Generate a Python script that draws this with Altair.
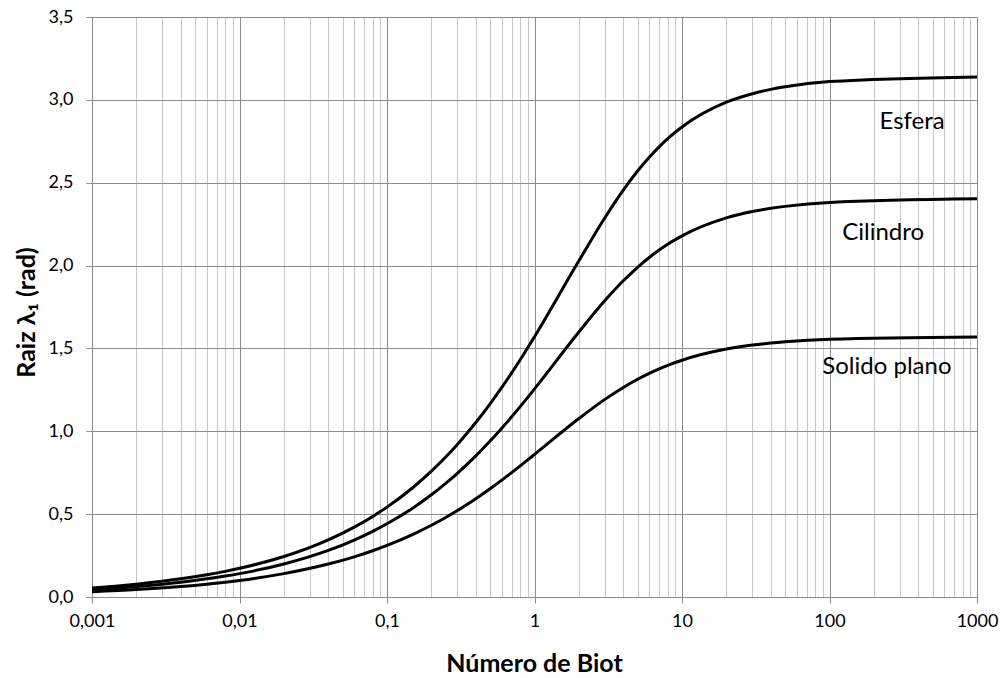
import altair as alt
import pandas as pd

# Biot numbers and first eigenvalue
BI = [0.001, 0.002, 0.004, 0.006, 0.008, 0.01, 0.02, 0.04, 0.06, 0.08, 0.1,
      0.15, 0.2, 0.25, 0.3, 0.4, 0.5, 0.6, 0.7, 0.8, 0.9, 1.0, 2, 3, 4, 5,
      6, 7, 8, 9, 10, 20, 30, 40, 50, 100, 1000]
PLANO = [0.0316, 0.0447, 0.0632, 0.0774, 0.0893, 0.0998, 0.1410, 0.1987,
         0.2425, 0.2791, 0.3111, 0.3779, 0.4328, 0.4801, 0.5218, 0.5932,
         0.6533, 0.7051, 0.7506, 0.7910, 0.8274, 0.8603, 1.0769, 1.1925,
         1.2646, 1.3138, 1.3496, 1.3766, 1.3978, 1.4149, 1.4289, 1.4961,
         1.5202, 1.5325, 1.5400, 1.5552, 1.5692]
CILINDRO = [0.0447, 0.0632, 0.0893, 0.1095, 0.1265, 0.1412, 0.1995, 0.2814,
            0.3438, 0.3960, 0.4417, 0.5376, 0.6170, 0.6856, 0.7465, 0.8516,
            0.9408, 1.0184, 1.0873, 1.1490, 1.2048, 1.2558, 1.5995, 1.7887,
            1.9081, 1.9898, 2.0490, 2.0937, 2.1286, 2.1566, 2.1795, 2.2881,
            2.3261, 2.3455, 2.3572, 2.3809, 2.4026]
ESFERA = [0.0548, 0.0774, 0.1095, 0.1341, 0.1548, 0.1730, 0.2445, 0.3450,
          0.4217, 0.4860, 0.5423, 0.6608, 0.7593, 0.8448, 0.9208, 1.0528,
          1.1656, 1.2644, 1.3525, 1.4320, 1.5044, 1.5708, 2.0288, 2.2889,
          2.4556, 2.5704, 2.6537, 2.7165, 2.7654, 2.8044, 2.8363, 2.9857,
          3.0372, 3.0632, 3.0788, 3.1102, 3.1385]

# Curve labels
LABEL_TEXT = ["Esfera", "Cilindro", "Solido plano"]
LABEL_X = [363, 231, 245]
LABEL_Y = [2.866, 2.197, 1.388]

# Axis ticks
X_MAJOR = [0.001, 0.01, 0.1, 1, 10, 100, 1000]
X_MAJOR_LABELS = ["0,001", "0,01", "0,1", "1", "10", "100", "1000"]
Y_TICKS = [0.0, 0.5, 1.0, 1.5, 2.0, 2.5, 3.0, 3.5]
Y_TICK_LABELS = ["0,0", "0,5", "1,0", "1,5", "2,0", "2,5", "3,0", "3,5"]

x_all = []
for k in range(-3, 3):
    for m in range(1, 10):
        x_all.append(round(m * 10.0 ** k, 6))
x_all.append(1000.0)

rows = []
for name, vals in [("Solido plano", PLANO), ("Cilindro", CILINDRO), ("Esfera", ESFERA)]:
    for b, v in zip(BI, vals):
        rows.append({"bi": b, "lam": v, "serie": name})
df = pd.DataFrame(rows)
labels_df = pd.DataFrame({"x": LABEL_X, "y": LABEL_Y, "t": LABEL_TEXT})

FONT = "Lato"
MAJ = "#8c8c8c"
MIN = "#c8c8c8"

major_js = "[" + ",".join(repr(float(v)) for v in X_MAJOR) + "]"
is_major = f"indexof({major_js}, datum.value) >= 0"
x_label_expr = " : ".join(
    f"datum.value == {float(v)!r} ? '{l}'" for v, l in zip(X_MAJOR, X_MAJOR_LABELS)
) + " : ''"
y_label_expr = " : ".join(
    f"abs(datum.value - {v}) < 1e-6 ? '{l}'" for v, l in zip(Y_TICKS, Y_TICK_LABELS)
) + " : ''"

x_scale = alt.Scale(type="log", domain=[0.001, 1000], nice=False)
y_scale = alt.Scale(domain=[0, 3.5], nice=False, zero=True)

x_axis = alt.Axis(
    values=x_all,
    labelExpr=x_label_expr,
    grid=True,
    gridColor={"condition": {"test": is_major, "value": MAJ}, "value": MIN},
    gridWidth=1,
    tickColor={"condition": {"test": is_major, "value": MAJ}, "value": "transparent"},
    tickSize=6,
    domainColor=MAJ,
    labelFont=FONT,
    labelFontSize=18,
    labelColor="#000000",
    labelPadding=9,
    labelFlush=False,
    labelOverlap=False,
    title="Número de Biot",
    titleFont=FONT,
    titleFontSize=25,
    titleFontWeight="bold",
    titleColor="#000000",
    titleBaseline="alphabetic",
    titleAlign="center",
    titleY=74,
    titleX=442,
)
y_axis = alt.Axis(
    values=Y_TICKS,
    labelExpr=y_label_expr,
    grid=True,
    gridColor=MAJ,
    gridWidth=1,
    tickColor=MAJ,
    tickSize=6,
    domainColor=MAJ,
    labelFont=FONT,
    labelFontSize=18,
    labelColor="#000000",
    labelPadding=13,
    labelFlush=False,
    title="Raiz λ₁ (rad)",
    titleFont=FONT,
    titleFontSize=25,
    titleFontWeight="bold",
    titleColor="#000000",
    titleAngle=270,
    titleAlign="center",
    titleBaseline="alphabetic",
    titleX=-58,
    titleY=295,
)

lines = alt.Chart(df).mark_line(
    color="black", strokeWidth=3, interpolate="monotone"
).encode(
    x=alt.X("bi:Q", scale=x_scale, axis=x_axis),
    y=alt.Y("lam:Q", scale=y_scale, axis=y_axis),
    detail="serie:N",
)

texts = alt.Chart(labels_df).mark_text(
    font=FONT, fontSize=24, color="black", align="center", baseline="middle"
).encode(
    x=alt.X("x:Q", scale=x_scale),
    y=alt.Y("y:Q", scale=y_scale),
    text="t:N",
)

chart = alt.layer(lines, texts).properties(
    width=885,
    height=580,
    autosize=alt.AutoSizeParams(type="none"),
    padding={"left": 92, "top": 17, "right": 26, "bottom": 81},
    background="white",
).configure_view(stroke=None)

chart.save("out.html", embed_options={"renderer": "svg", "actions": False})
